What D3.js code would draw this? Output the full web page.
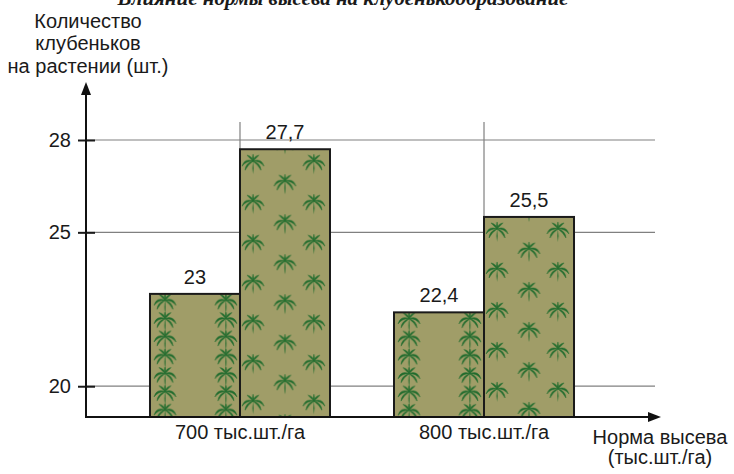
<!DOCTYPE html>
<html>
<head>
<meta charset="utf-8">
<script src="https://cdn.jsdelivr.net/npm/d3@7"></script>
<style>
  body { margin: 0; background: #ffffff; }
  svg { display: block; }
  text { font-family: "Liberation Sans", Arial, sans-serif; fill: #1a1a1a; }
</style>
</head>
<body>
<svg id="chart" width="734" height="474"></svg>
<script>
// Seeding rates (x categories)
const categories = ["700 тыс.шт./га", "800 тыс.шт./га"];
// Two variants per seeding rate
const seriesKeys = ["rows", "scatter"];
const rowsValues = [23, 22.4];
const scatterValues = [27.7, 25.5];
// Y axis ticks
const yTickValues = [20, 25, 28];

const svg = d3.select("#chart");
const ru = d3.formatLocale({ decimal: ",", thousands: " ", grouping: [3], currency: ["", " ₽"] });
const fmt = v => Number.isInteger(v) ? String(v) : ru.format(".1f")(v);

const axisX = 86, axisY = 417;
const y = d3.scaleLinear().domain([19, 28]).range([axisY, 140]);
const x0 = d3.scaleBand().domain(categories).range([118, 606])
  .paddingInner(0.2623).paddingOuter(0.1311);
const x1 = d3.scaleBand().domain(seriesKeys).range([0, x0.bandwidth()]);

const data = categories.map((c, i) => ({
  cat: c,
  bars: [
    { key: "rows", value: rowsValues[i] },
    { key: "scatter", value: scatterValues[i] }
  ]
}));

// Title (runs off the top edge)
svg.append("text")
  .attr("x", 343).attr("y", 5)
  .attr("text-anchor", "middle")
  .style("font-family", "'Liberation Serif', 'Times New Roman', serif")
  .style("font-weight", "bold").style("font-style", "italic")
  .style("font-size", "21px")
  .text("Влияние нормы высева на клубенькообразование");

// ---------- defs: palm glyph and fill patterns ----------
const defs = svg.append("defs");

function leafPath(tx, ty, bend, w) {
  const len = Math.hypot(tx, ty);
  const ux = tx / len, uy = ty / len;
  const nx = -uy, ny = ux;
  const mx = tx / 2, my = ty / 2;
  const c1 = [mx + nx * (bend + w), my + ny * (bend + w)];
  const c2 = [mx + nx * (bend - w), my + ny * (bend - w)];
  return `M0,0 Q${c1[0].toFixed(2)},${c1[1].toFixed(2)} ${tx},${ty} Q${c2[0].toFixed(2)},${c2[1].toFixed(2)} 0,0 Z`;
}

// palm: crown of arched fronds over a short trunk
const palm = defs.append("g").attr("id", "palm");
const crown = palm.append("g").attr("transform", "translate(0,-3)");
const fronds = [
  [-11, 5, 5, 1.8], [11, 5, -5, 1.8],     // long side fronds, arched and drooping
  [-8, 9, 3, 1.4], [8, 9, -3, 1.4],       // lower drooping fronds
  [-6, -6, 1.5, 1.5], [6, -6, -1.5, 1.5], // upper fronds
  [0, -7, 0, 1.2]
];
fronds.forEach(l => {
  crown.append("path").attr("d", leafPath(l[0], l[1], l[2], l[3]))
    .attr("fill", "#1d6a2b").attr("stroke", "#1d6a2b").attr("stroke-width", 0.5);
});
crown.append("path").attr("d", leafPath(0, 13, 0, 1.1)).attr("fill", "#1d6a2b");

const barFill = "#a09d68";
const bw = x1.bandwidth();

data.forEach((d, i) => {
  d.bars.forEach(b => {
    // pattern coordinates are in the bar group's own (translated) space
    const bx = x1(b.key);
    const by = y(b.value);
    const id = `pat-${i}-${b.key}`;
    b.pid = id;
    let pat;
    if (b.key === "rows") {
      pat = defs.append("pattern").attr("id", id)
        .attr("patternUnits", "userSpaceOnUse")
        .attr("x", bx).attr("y", by)
        .attr("width", bw).attr("height", 18.3);
      pat.append("rect").attr("width", bw).attr("height", 18.3).attr("fill", barFill);
      [[15, 9.5], [76, 9.5]].forEach(p => pat.append("use").attr("href", "#palm").attr("x", p[0]).attr("y", p[1]));
    } else {
      pat = defs.append("pattern").attr("id", id)
        .attr("patternUnits", "userSpaceOnUse")
        .attr("x", bx).attr("y", by)
        .attr("width", bw).attr("height", 40);
      pat.append("rect").attr("width", bw).attr("height", 40).attr("fill", barFill);
      [[13, 15], [74, 15], [45, 35], [45, -5]].forEach(p => pat.append("use").attr("href", "#palm").attr("x", p[0]).attr("y", p[1]));
    }
  });
});

// ---------- grid ----------
svg.append("g").selectAll("line").data(yTickValues).join("line")
  .attr("x1", axisX).attr("x2", 655)
  .attr("y1", d => y(d)).attr("y2", d => y(d))
  .attr("stroke", "#808080").attr("stroke-width", 1.2);

// vertical dividers above the taller bars
svg.append("g").selectAll("line").data(data).join("line")
  .attr("x1", d => x0(d.cat) + x1("scatter")).attr("x2", d => x0(d.cat) + x1("scatter"))
  .attr("y1", 122)
  .attr("y2", d => y(d3.max(d.bars, b => b.value)))
  .attr("stroke", "#808080").attr("stroke-width", 1.2);

// ---------- bars ----------
const groups = svg.append("g").selectAll("g").data(data).join("g")
  .attr("transform", d => `translate(${x0(d.cat)},0)`);

groups.selectAll("rect").data(d => d.bars).join("rect")
  .attr("x", b => x1(b.key))
  .attr("y", b => y(b.value))
  .attr("width", bw)
  .attr("height", b => axisY - y(b.value))
  .attr("fill", b => `url(#${b.pid})`)
  .attr("stroke", "#1a1a1a").attr("stroke-width", 2);

groups.selectAll("text.val").data(d => d.bars).join("text")
  .attr("class", "val")
  .attr("x", b => x1(b.key) + bw / 2)
  .attr("y", b => y(b.value) - 10)
  .attr("text-anchor", "middle")
  .style("font-size", "20px")
  .text(b => fmt(b.value));

// ---------- axes ----------
const yAxis = svg.append("g").attr("transform", `translate(${axisX},0)`)
  .call(d3.axisLeft(y).tickValues(yTickValues).tickSizeInner(8).tickSizeOuter(0).tickPadding(7));
yAxis.select(".domain").remove();
yAxis.selectAll(".tick line").attr("x1", 9).attr("x2", -8).attr("stroke", "#1a1a1a").attr("stroke-width", 2);
yAxis.selectAll(".tick text").style("font-size", "20px").attr("fill", "#1a1a1a")
  .style("font-family", "'Liberation Sans', Arial, sans-serif");

const xAxis = svg.append("g").attr("transform", `translate(0,${axisY})`)
  .call(d3.axisBottom(x0).tickSize(0).tickPadding(8));
xAxis.select(".domain").remove();
xAxis.selectAll(".tick text").style("font-size", "20px").attr("fill", "#1a1a1a")
  .style("font-family", "'Liberation Sans', Arial, sans-serif");

// axis lines with arrows
svg.append("line").attr("x1", axisX).attr("x2", axisX).attr("y1", axisY + 1).attr("y2", 92)
  .attr("stroke", "#111").attr("stroke-width", 2);
svg.append("path").attr("d", `M${axisX},82 L${axisX - 5},95 L${axisX + 5},95 Z`).attr("fill", "#111");
svg.append("line").attr("x1", axisX - 1).attr("x2", 650).attr("y1", axisY).attr("y2", axisY)
  .attr("stroke", "#111").attr("stroke-width", 2);
svg.append("path").attr("d", `M661,${axisY} L648,${axisY - 5} L648,${axisY + 5} Z`).attr("fill", "#111");

// axis titles
const yTitle = svg.append("text").attr("text-anchor", "middle").style("font-size", "20px");
[["Количество", 27.5], ["клубеньков", 50], ["на растении (шт.)", 72.5]].forEach(t => {
  yTitle.append("tspan").attr("x", 88).attr("y", t[1]).text(t[0]);
});
const xTitle = svg.append("text").attr("text-anchor", "middle").style("font-size", "20px");
[["Норма высева", 444], ["(тыс.шт./га)", 464]].forEach(t => {
  xTitle.append("tspan").attr("x", 660).attr("y", t[1]).text(t[0]);
});
</script>
</body>
</html>
